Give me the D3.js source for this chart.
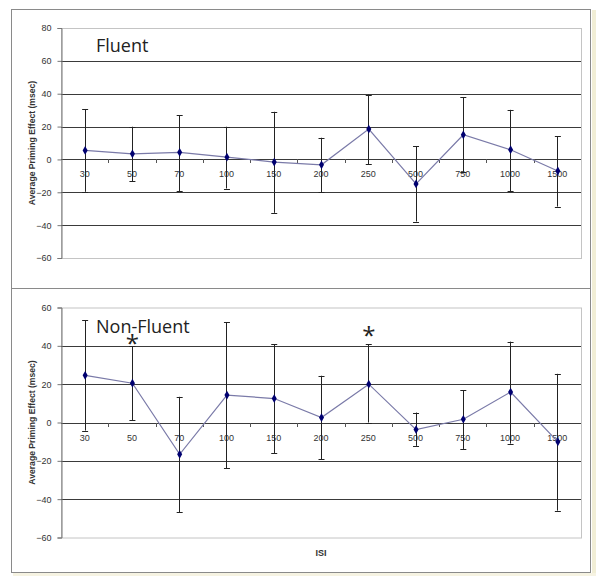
<!DOCTYPE html>
<html><head><meta charset="utf-8">
<script src="https://cdn.jsdelivr.net/npm/d3@7"></script>
<style>body{margin:0;background:#fff}svg{display:block}</style>
</head><body>
<script>
const categories = ["30","50","70","100","150","200","250","500","750","1000","1500"];
const fluentMean = [5.5, 3.4, 4.3, 1.4, -1.6, -3.3, 18.5, -14.9, 15.0, 5.9, -7.0];
const fluentHigh = [30.7, 19.9, 27.0, 19.9, 29.0, 13.2, 39.4, 7.9, 37.8, 30.2, 14.0];
const fluentLow  = [-19.7, -13.2, -19.5, -17.7, -32.5, -20.1, -3.0, -37.8, -7.5, -19.5, -28.7];
const nonFluentMean = [24.6, 20.5, -16.6, 14.3, 12.5, 2.6, 20.0, -3.7, 1.7, 15.9, -10.1];
const nonFluentHigh = [53.3, 39.9, 13.4, 52.4, 40.8, 24.4, 40.8, 5.2, 16.7, 42.2, 25.4];
const nonFluentLow  = [-4.2, 1.2, -46.9, -23.9, -15.9, -19.3, 0.0, -12.2, -13.8, -11.0, -46.0];
const fluentTicks = [80, 60, 40, 20, 0, -20, -40, -60];
const nonFluentTicks = [60, 40, 20, 0, -20, -40, -60];
const significant = ["50", "250"];

const svg = d3.select("body").append("svg").attr("width", 600).attr("height", 585);
svg.append("rect").attr("width",600).attr("height",585).attr("fill","#fff");
// beige shadow
svg.append("rect").attr("x",592).attr("y",10).attr("width",4).attr("height",566).attr("fill","#f1eed6");
svg.append("rect").attr("x",13).attr("y",573).attr("width",583).attr("height",3).attr("fill","#f6f3e2");
// frame
svg.append("rect").attr("x",11.5).attr("y",9.5).attr("width",579).attr("height",563)
  .attr("fill","#fff").attr("stroke","#8a8a8a");
svg.append("line").attr("x1",11.5).attr("x2",590.5).attr("y1",288.5).attr("y2",288.5).attr("stroke","#8a8a8a");

function panel(opts){
  const x = d3.scaleBand().domain(categories).range([61, 581]);
  const y = d3.scaleLinear().domain(opts.domain).range(opts.range);
  const g = svg.append("g");
  const [x0,x1] = x.range();
  // plot area border
  g.append("rect").attr("x",x0+0.5).attr("y",y(opts.domain[1])+0.5)
    .attr("width",x1-x0).attr("height",y(opts.domain[0])-y(opts.domain[1]))
    .attr("fill","#fff").attr("stroke","#c4c4c4");
  // gridlines
  g.selectAll(".grid").data(opts.ticks.filter(t=>t>opts.domain[0] && t<opts.domain[1]))
    .join("line").attr("x1",x0).attr("x2",x1)
    .attr("y1",d=>Math.round(y(d))+0.5).attr("y2",d=>Math.round(y(d))+0.5)
    .attr("stroke","#3a3a3a").attr("stroke-width",1);
  // y axis
  const ya = g.append("g").attr("transform",`translate(${x0+0.5},0)`)
    .call(d3.axisLeft(y).tickValues(opts.ticks).tickSize(4).tickPadding(6).tickFormat(d3.format("d")));
  ya.select(".domain").attr("stroke","#777");
  ya.selectAll(".tick line").attr("stroke","#777");
  ya.selectAll("text").attr("font-family","Liberation Sans, Arial, sans-serif").attr("font-size",9).attr("fill","#333");
  // x axis at zero
  const xa = g.append("g").attr("transform",`translate(0,${Math.round(y(0))+0.5})`)
    .call(d3.axisBottom(x).tickSize(0).tickPadding(11));
  xa.select(".domain").remove();
  xa.selectAll("text").attr("font-family","Liberation Sans, Arial, sans-serif").attr("font-size",9).attr("fill","#333");
  g.selectAll(".xt").data(categories.slice(1)).join("line")
    .attr("x1",d=>Math.round(x(d))+0.5).attr("x2",d=>Math.round(x(d))+0.5)
    .attr("y1",Math.round(y(0))).attr("y2",Math.round(y(0))+4).attr("stroke","#555");
  const cx = d=>x(d)+x.bandwidth()/2;
  // error bars
  const eb = g.selectAll(".eb").data(categories).join("g");
  eb.append("line").attr("x1",d=>Math.round(cx(d))+0.5).attr("x2",d=>Math.round(cx(d))+0.5)
    .attr("y1",(d,i)=>y(opts.high[i])).attr("y2",(d,i)=>y(opts.low[i])).attr("stroke","#222");
  eb.append("line").attr("x1",d=>cx(d)-2.5).attr("x2",d=>cx(d)+3.5)
    .attr("y1",(d,i)=>Math.round(y(opts.high[i]))+0.5).attr("y2",(d,i)=>Math.round(y(opts.high[i]))+0.5).attr("stroke","#222");
  eb.append("line").attr("x1",d=>cx(d)-2.5).attr("x2",d=>cx(d)+3.5)
    .attr("y1",(d,i)=>Math.round(y(opts.low[i]))+0.5).attr("y2",(d,i)=>Math.round(y(opts.low[i]))+0.5).attr("stroke","#222");
  // line
  const line = d3.line().x((d,i)=>cx(categories[i])+0.5).y(d=>y(d));
  g.append("path").datum(opts.mean).attr("d",line).attr("fill","none").attr("stroke","#7a7aa8").attr("stroke-width",1.2);
  g.selectAll(".pt").data(opts.mean).join("path")
    .attr("d",d3.symbol().type(d3.symbolDiamond).size(22))
    .attr("transform",(d,i)=>`translate(${cx(categories[i])+0.5},${y(d)})`)
    .attr("fill","#000070");
  // label
  g.append("text").attr("x",96).attr("y",opts.labelY).text(opts.label)
    .attr("font-family","Open Sans, sans-serif").attr("font-size",18).attr("fill","#222");
  // y title
  const yc = (y(opts.domain[0])+y(opts.domain[1]))/2;
  g.append("text").attr("transform",`translate(35,${yc}) rotate(-90)`).attr("text-anchor","middle")
    .text("Average Priming Effect (msec)")
    .attr("font-family","Liberation Sans, Arial, sans-serif").attr("font-weight","bold").attr("font-size",8.6).attr("fill","#333");
  return {x, y, cx, g};
}

panel({domain:[-60,80], range:[258,28], ticks:fluentTicks, mean:fluentMean, high:fluentHigh, low:fluentLow, label:"Fluent", labelY:52});
const p2 = panel({domain:[-60,60], range:[537.5,307.5], ticks:nonFluentTicks, mean:nonFluentMean, high:nonFluentHigh, low:nonFluentLow, label:"Non-Fluent", labelY:333});
p2.g.selectAll(".star").data(significant).join("text")
  .attr("x",d=>p2.cx(d)+0.5).attr("y",(d)=>p2.y(nonFluentHigh[categories.indexOf(d)])+ (d==="50"?6:0))
  .attr("text-anchor","middle").text("*")
  .attr("font-family","Open Sans, sans-serif").attr("font-size",24).attr("fill","#222");
svg.append("text").attr("x",321).attr("y",556).attr("text-anchor","middle").text("ISI")
  .attr("font-family","Liberation Sans, Arial, sans-serif").attr("font-weight","bold").attr("font-size",9).attr("fill","#333");
</script>
</body></html>
